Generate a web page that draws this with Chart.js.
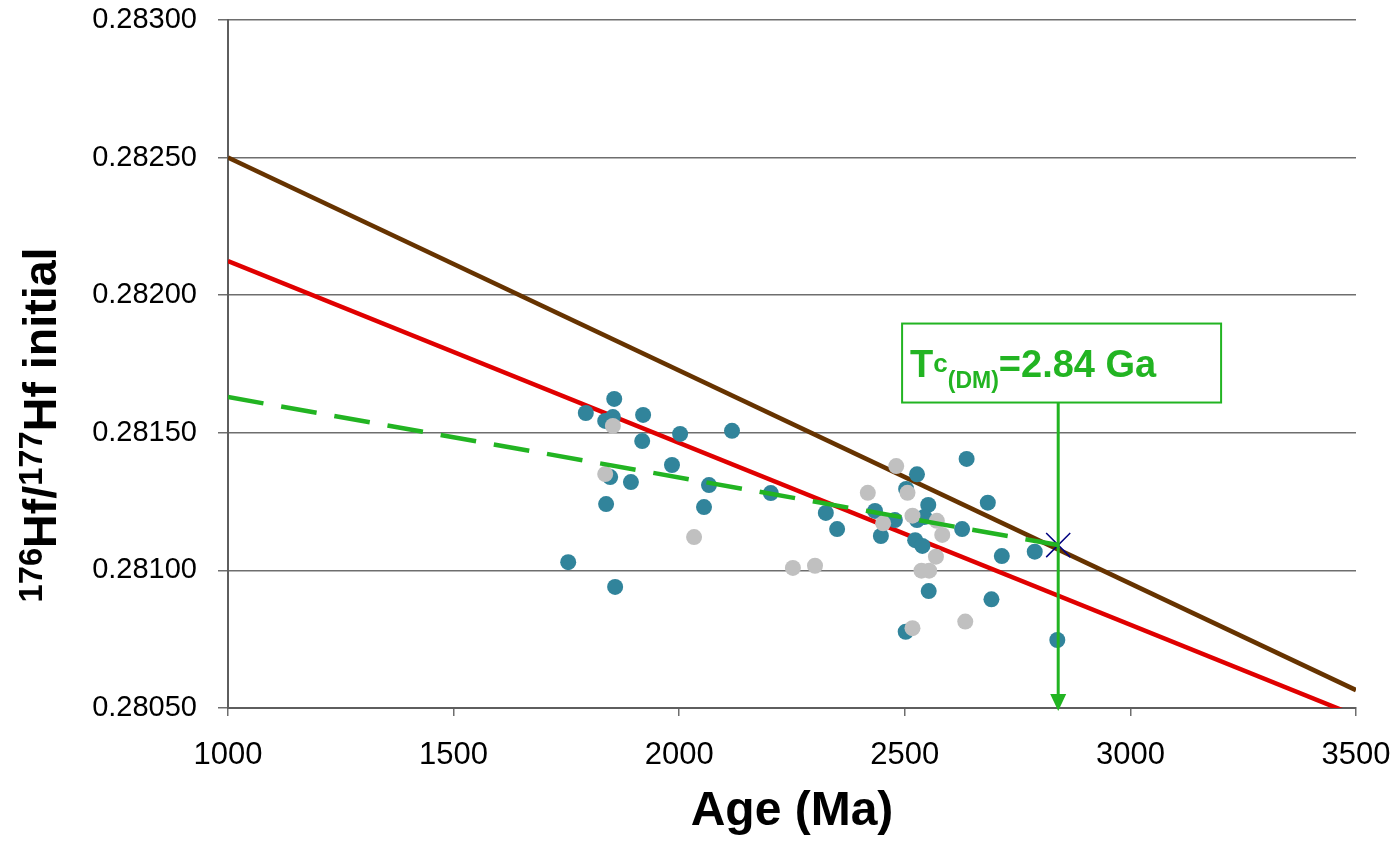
<!DOCTYPE html>
<html>
<head>
<meta charset="utf-8">
<script src="https://cdn.jsdelivr.net/npm/chart.js@4.4.1/dist/chart.umd.min.js"></script>
<style>
  html, body { margin: 0; padding: 0; background: #ffffff; }
  #wrap { width: 1396px; height: 842px; }
</style>
</head>
<body>
<div id="wrap"><canvas id="hfChart" width="1396" height="842"></canvas></div>
<script>
// Zircon analyses (age in Ma, initial 176Hf/177Hf)
const tealAges = [1754, 1793, 1856, 1836, 1853, 1920, 1918, 2002, 2117, 1984, 1893, 1847, 1838, 1858,
  2055, 2066, 2203, 2325, 2350, 2434, 2447, 2637, 2527, 2503, 2552, 2543, 2478, 2527, 2523, 2539,
  2684, 2627, 2715, 2788, 2553, 2692, 2502, 2838];
const tealValues = [0.281030, 0.281572, 0.281623, 0.281543, 0.281557, 0.281565, 0.281470, 0.281496,
  0.281507, 0.281383, 0.281321, 0.281339, 0.281241, 0.280940, 0.281230, 0.281310, 0.281281, 0.281209,
  0.281150, 0.281216, 0.281125, 0.281405, 0.281349, 0.281296, 0.281238, 0.281194, 0.281183, 0.281183,
  0.281110, 0.281089, 0.281246, 0.281150, 0.281052, 0.281068, 0.280925, 0.280895, 0.280777, 0.280747];

const grayAges = [1853, 1836, 2033, 2252, 2301, 2418, 2481, 2506, 2452, 2517, 2571, 2583, 2569,
  2537, 2554, 2517, 2634];
const grayValues = [0.281525, 0.281350, 0.281121, 0.281009, 0.281017, 0.281282, 0.281379, 0.281282,
  0.281171, 0.281199, 0.281180, 0.281129, 0.281050, 0.280999, 0.280999, 0.280790, 0.280814];

// reference lines
const dmAges = [1000, 3500];
const dmValues = [0.282500, 0.280565];
const crustAges = [1000, 3500];
const crustValues = [0.282124, 0.280472];
const evolAges = [1000, 2840];
const evolValues = [0.281630, 0.281092];

// crustal model age
const tdmAge = [2840];
const tdmValue = [0.281092];

// axes
const xTicks = [1000, 1500, 2000, 2500, 3000, 3500];
const yTicks = [0.28050, 0.28100, 0.28150, 0.28200, 0.28250, 0.28300];

const green = '#22b422';
const sans = '"Liberation Sans", Arial, sans-serif';

function pairs(xs, ys) {
  return xs.map((v, i) => ({ x: v, y: ys[i] }));
}

// rotated y axis title with superscripts
const yTitlePlugin = {
  id: 'yTitle',
  afterDraw(chart) {
    const ctx = chart.ctx;
    const parts = [['176', true], ['Hf/', false], ['177', true], ['Hf initial', false]];
    const mainFont = 'bold 47px ' + sans;
    const supFont = 'bold 33px ' + sans;
    ctx.save();
    let total = 0;
    parts.forEach(p => {
      ctx.font = p[1] ? supFont : mainFont;
      total += ctx.measureText(p[0]).width;
    });
    const targetLen = 355;
    const stretch = targetLen / total;
    ctx.translate(56, 425 + targetLen / 2);
    ctx.rotate(-Math.PI / 2);
    ctx.scale(stretch, 1);
    ctx.fillStyle = '#000000';
    ctx.textBaseline = 'alphabetic';
    let pos = 0;
    parts.forEach(p => {
      ctx.font = p[1] ? supFont : mainFont;
      ctx.fillText(p[0], pos, p[1] ? -14 : 0);
      pos += ctx.measureText(p[0]).width;
    });
    ctx.restore();
  }
};

// T(DM) label box and arrow
const tdmPlugin = {
  id: 'tdmBox',
  afterDatasetsDraw(chart) {
    const { ctx, scales } = chart;
    const xs = scales.x, ys = scales.y;
    const left = xs.getPixelForValue(2494);
    const right = xs.getPixelForValue(3201);
    const top = ys.getPixelForValue(0.281897);
    const bottom = ys.getPixelForValue(0.281610);
    const ax = xs.getPixelForValue(tdmAge[0]);
    const tipY = chart.chartArea.bottom + 3;

    ctx.save();
    // vertical arrow
    ctx.strokeStyle = green;
    ctx.lineWidth = 3;
    ctx.beginPath();
    ctx.moveTo(ax, bottom);
    ctx.lineTo(ax, tipY - 14);
    ctx.stroke();
    ctx.fillStyle = green;
    ctx.beginPath();
    ctx.moveTo(ax - 8, tipY - 17);
    ctx.lineTo(ax + 8, tipY - 17);
    ctx.lineTo(ax, tipY);
    ctx.closePath();
    ctx.fill();

    // box
    ctx.fillStyle = '#ffffff';
    ctx.fillRect(left, top, right - left, bottom - top);
    ctx.lineWidth = 2;
    ctx.strokeRect(left, top, right - left, bottom - top);

    // label
    const base = top + 53;
    let tx = left + 8;
    ctx.fillStyle = green;
    ctx.textBaseline = 'alphabetic';
    ctx.font = 'bold 38px ' + sans;
    ctx.fillText('T', tx, base);
    tx += ctx.measureText('T').width;
    ctx.font = 'bold 26px ' + sans;
    ctx.fillText('c', tx, base - 5);
    tx += ctx.measureText('c').width;
    ctx.font = 'bold 23px ' + sans;
    ctx.fillText('(DM)', tx, base + 11);
    tx += ctx.measureText('(DM)').width;
    ctx.font = 'bold 38px ' + sans;
    ctx.fillText('=' + (tdmAge[0] / 1000).toFixed(2) + ' Ga', tx, base);
    ctx.restore();
  }
};

const ctx = document.getElementById('hfChart').getContext('2d');
const chart = new Chart(ctx, {
  type: 'scatter',
  data: {
    datasets: [
      {
        label: 'Evolution',
        data: pairs(evolAges, evolValues),
        showLine: true,
        borderColor: green,
        borderWidth: 4.5,
        borderDash: [36, 18],
        pointRadius: 0,
        order: 0
      },
      {
        label: 'TDM',
        data: pairs(tdmAge, tdmValue),
        pointStyle: 'crossRot',
        pointRadius: 17,
        borderColor: '#000080',
        borderWidth: 1.5,
        order: 0
      },
      {
        label: 'Gray',
        data: pairs(grayAges, grayValues),
        pointRadius: 8,
        backgroundColor: '#c0c0c0',
        borderWidth: 0,
        order: 1
      },
      {
        label: 'Teal',
        data: pairs(tealAges, tealValues),
        pointRadius: 8,
        backgroundColor: '#31849b',
        borderWidth: 0,
        order: 2
      },
      {
        label: 'DM',
        data: pairs(dmAges, dmValues),
        showLine: true,
        borderColor: '#663300',
        borderWidth: 4.5,
        pointRadius: 0,
        clip: 0,
        order: 3
      },
      {
        label: 'Crust',
        data: pairs(crustAges, crustValues),
        showLine: true,
        borderColor: '#e00000',
        borderWidth: 4.5,
        pointRadius: 0,
        clip: 0,
        order: 3
      }
    ]
  },
  options: {
    responsive: false,
    animation: false,
    layout: { padding: { top: 20, right: 40, left: 0, bottom: 0 } },
    plugins: {
      legend: { display: false },
      tooltip: { enabled: false }
    },
    scales: {
      x: {
        type: 'linear',
        min: xTicks[0],
        max: xTicks[xTicks.length - 1],
        afterBuildTicks: s => { s.ticks = xTicks.map(v => ({ value: v })); },
        afterFit: s => { s.height = 134; s.paddingLeft = 0; s.paddingRight = 0; },
        grid: { drawOnChartArea: false, drawTicks: true, tickLength: 8, color: '#6e6e6e', lineWidth: 1.5 },
        border: { display: true, color: '#5e5e5e', width: 2 },
        ticks: {
          padding: 21,
          color: '#000000',
          font: { family: sans, size: 31 },
          maxRotation: 0,
          callback: v => String(v)
        },
        title: {
          display: true,
          text: 'Age (Ma)',
          color: '#000000',
          font: { family: sans, size: 48, weight: 'bold' },
          padding: { top: 0, bottom: 1 }
        }
      },
      y: {
        type: 'linear',
        min: yTicks[0],
        max: yTicks[yTicks.length - 1],
        afterBuildTicks: s => { s.ticks = yTicks.map(v => ({ value: v })); },
        afterFit: s => { s.width = 228; s.paddingTop = 0; s.paddingBottom = 0; },
        grid: { drawOnChartArea: true, drawTicks: true, tickLength: 10, color: '#6e6e6e', lineWidth: 1.5 },
        border: { display: true, color: '#5e5e5e', width: 2 },
        ticks: {
          padding: 21,
          color: '#000000',
          font: { family: sans, size: 29 },
          callback: v => Number(v).toFixed(5)
        }
      }
    }
  },
  plugins: [yTitlePlugin, tdmPlugin]
});
</script>
</body>
</html>
